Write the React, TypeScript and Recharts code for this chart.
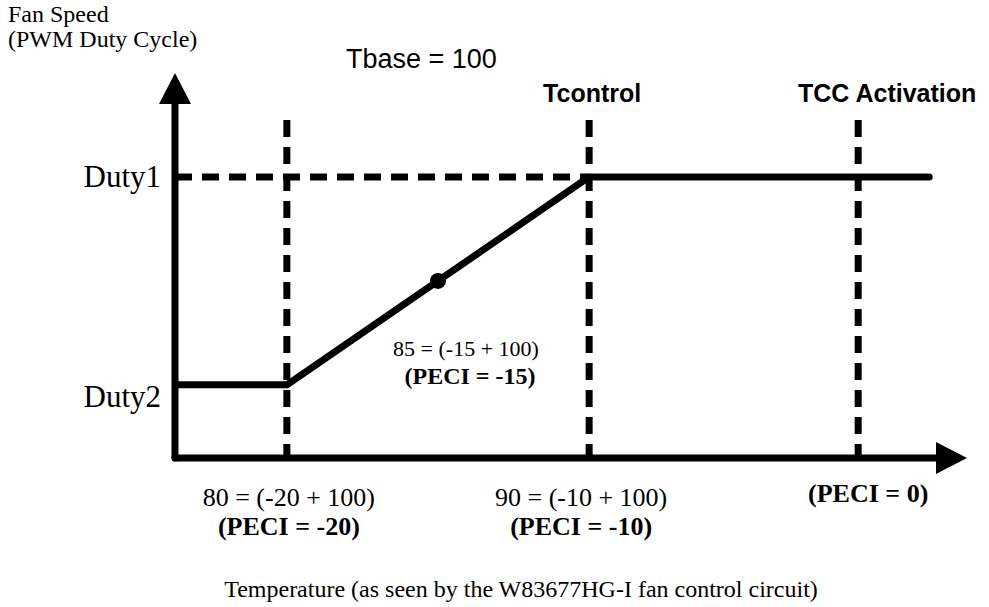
import {
  LineChart,
  Line,
  XAxis,
  YAxis,
  ReferenceLine,
  ReferenceDot,
} from "recharts";

// temperature (x) vs fan duty (y, 0-100 of the axis height)
const curveTemps = [76.3, 80, 90, 101.25];
const curveDuty = [19, 19, 73, 73];

const dutyTicks = [19, 73];
const dutyNames = ["Duty2", "Duty1"];

const markTemps = [80, 90, 98.9];
const markFormulas = ["80 = (-20 + 100)", "90 = (-10 + 100)", ""];
const markPeci = ["(PECI = -20)", "(PECI = -10)", "(PECI = 0)"];
const markTitles = ["", "Tcontrol", "TCC Activation"];

const midTemp = 85;
const midDuty = 46;
const midFormula = "85 = (-15 + 100)";
const midPeci = "(PECI = -15)";

const xMin = 76.3;
const xMax = 102.5;
const dashTop = 87.8;

const data = curveTemps.map((t, i) => ({ t, duty: curveDuty[i] }));

const SERIF = "'Liberation Serif', 'Times New Roman', serif";
const SANS = "'Liberation Sans', Arial, sans-serif";

// small hand-tuned nudges for label placement
const tickDx = [2, -8, 10];
const titleDx = [0, 3, 29];

function XTick(props: any) {
  const { x, index } = props;
  const i = index;
  if (!markFormulas[i]) {
    return (
      <text
        x={x + tickDx[i]}
        y={502}
        textAnchor="middle"
        fontFamily={SERIF}
        fontSize={26}
        fontWeight="bold"
        fill="#000"
      >
        {markPeci[i]}
      </text>
    );
  }
  return (
    <g>
      <text x={x + tickDx[i]} y={506} textAnchor="middle" fontFamily={SERIF} fontSize={26} fill="#000">
        {markFormulas[i]}
      </text>
      <text
        x={x + tickDx[i]}
        y={535}
        textAnchor="middle"
        fontFamily={SERIF}
        fontSize={26}
        fontWeight="bold"
        fill="#000"
      >
        {markPeci[i]}
      </text>
    </g>
  );
}

function YTick(props: any) {
  const { y, index } = props;
  const dy = index === 0 ? 22 : 10;
  return (
    <text x={161} y={y + dy} textAnchor="end" fontFamily={SERIF} fontSize={31} fill="#000">
      {dutyNames[index]}
    </text>
  );
}

const upArrow = (p: any) => (
  <path d={`M${p.cx},${p.cy} L${p.cx - 16},${p.cy + 31} L${p.cx + 16},${p.cy + 31} Z`} fill="#000" />
);

const rightArrow = (p: any) => (
  <path d={`M${p.cx},${p.cy} L${p.cx - 31},${p.cy - 16} L${p.cx - 31},${p.cy + 16} Z`} fill="#000" />
);

export default function App() {
  return (
    <div style={{ position: "absolute", left: 0, top: 0, background: "#fff" }}>
      <LineChart
        width={989}
        height={607}
        data={data}
        margin={{ top: 73, right: 22, bottom: 0, left: 0 }}
      >
        <XAxis
          type="number"
          dataKey="t"
          domain={[xMin, xMax]}
          ticks={markTemps}
          allowDataOverflow
          axisLine={false}
          tickLine={false}
          height={149}
          tick={(p: any) => <XTick {...p} />}
          label={() => (
            <text x={521} y={597} textAnchor="middle" fontFamily={SERIF} fontSize={24} fill="#000">
              Temperature (as seen by the W83677HG-I fan control circuit)
            </text>
          )}
        />
        <YAxis
          type="number"
          domain={[0, 100]}
          ticks={dutyTicks}
          axisLine={false}
          tickLine={false}
          width={175}
          tick={(p: any) => <YTick {...p} />}
          label={() => (
            <g>
              <text x={8} y={22} fontFamily={SERIF} fontSize={24} fill="#000">
                Fan Speed
              </text>
              <text x={8} y={47} fontFamily={SERIF} fontSize={24} fill="#000">
                (PWM Duty Cycle)
              </text>
              <text x={346} y={68} fontFamily={SANS} fontSize={27} fill="#000">
                Tbase = 100
              </text>
            </g>
          )}
        />

        {markTemps.map((t, i) => (
          <ReferenceLine
            key={t}
            segment={[
              { x: t, y: dashTop },
              { x: t, y: 0 },
            ]}
            stroke="#000"
            strokeWidth={7}
            strokeDasharray="17 10"
            ifOverflow="visible"
            label={(lp: any) =>
              markTitles[i] ? (
                <text
                  x={lp.viewBox.x + titleDx[i]}
                  y={102}
                  textAnchor="middle"
                  fontFamily={SANS}
                  fontSize={25}
                  fontWeight="bold"
                  fill="#000"
                >
                  {markTitles[i]}
                </text>
              ) : null
            }
          />
        ))}
        <ReferenceLine
          segment={[
            { x: xMin, y: curveDuty[3] },
            { x: markTemps[1], y: curveDuty[3] },
          ]}
          stroke="#000"
          strokeWidth={7}
          strokeDasharray="17 10"
          ifOverflow="visible"
        />

        <Line
          type="linear"
          dataKey="duty"
          stroke="#000"
          strokeWidth={7}
          strokeLinecap="round"
          strokeLinejoin="round"
          dot={false}
          activeDot={false}
          isAnimationActive={false}
        />

        {/* axes with arrow heads */}
        <ReferenceLine
          segment={[
            { x: xMin, y: 0 },
            { x: xMin, y: 93 },
          ]}
          stroke="#000"
          strokeWidth={7}
          strokeLinecap="round"
          ifOverflow="visible"
        />
        <ReferenceLine
          segment={[
            { x: xMin, y: 0 },
            { x: 101.6, y: 0 },
          ]}
          stroke="#000"
          strokeWidth={7}
          strokeLinecap="round"
          ifOverflow="visible"
        />
        <ReferenceDot x={xMin} y={100} r={1} ifOverflow="visible" shape={upArrow} />
        <ReferenceDot x={xMax} y={0} r={1} ifOverflow="visible" shape={rightArrow} />

        <ReferenceDot
          x={midTemp}
          y={midDuty}
          r={8}
          fill="#000"
          stroke="none"
          ifOverflow="visible"
          label={(lp: any) => (
            <g>
              <text
                x={lp.viewBox.x + 36}
                y={356}
                textAnchor="middle"
                fontFamily={SERIF}
                fontSize={22}
                fill="#000"
              >
                {midFormula}
              </text>
              <text
                x={lp.viewBox.x + 40}
                y={384}
                textAnchor="middle"
                fontFamily={SERIF}
                fontSize={24}
                fontWeight="bold"
                fill="#000"
              >
                {midPeci}
              </text>
            </g>
          )}
        />
      </LineChart>
    </div>
  );
}
